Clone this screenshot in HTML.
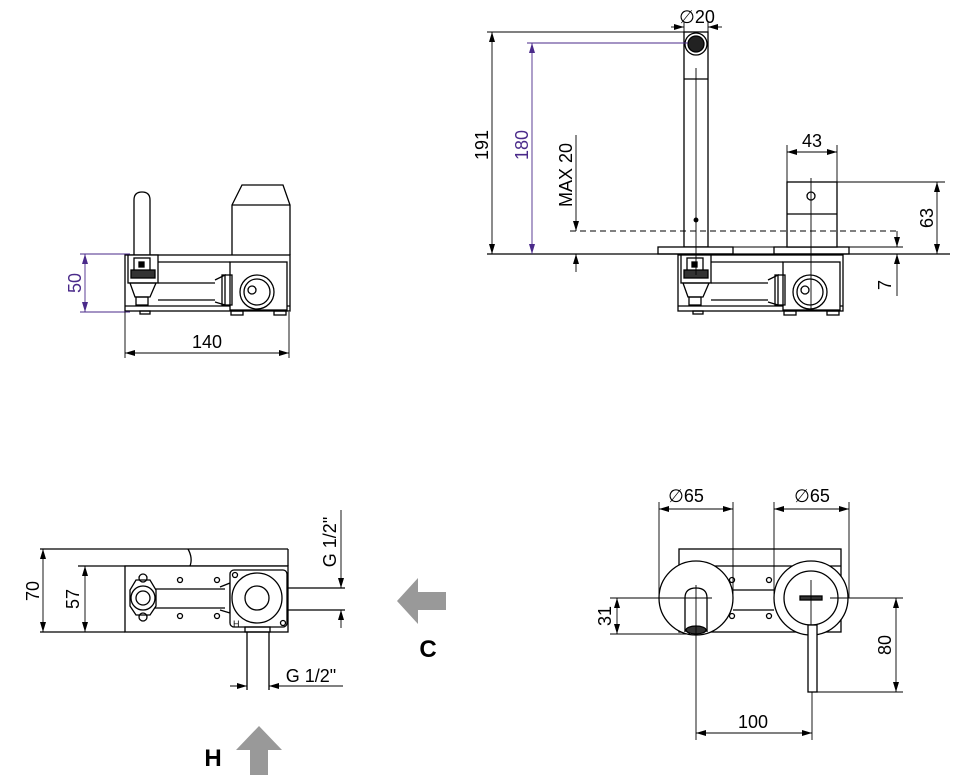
<!DOCTYPE html>
<html><head><meta charset="utf-8"><style>
html,body{margin:0;padding:0;background:#fff;}
svg{display:block;}
text{font-family:"Liberation Sans",sans-serif;font-size:18px;fill:#000;}
.p{fill:#4a2a8a;}
</style></head><body>
<svg width="970" height="775" viewBox="0 0 970 775" xmlns="http://www.w3.org/2000/svg">
<defs>
<marker id="a" viewBox="0 0 10 6" refX="10" refY="3" markerWidth="10" markerHeight="6" orient="auto-start-reverse" markerUnits="userSpaceOnUse"><path d="M0,0L10,3L0,6z" fill="#000"/></marker>
<marker id="ap" viewBox="0 0 10 6" refX="10" refY="3" markerWidth="10" markerHeight="6" orient="auto-start-reverse" markerUnits="userSpaceOnUse"><path d="M0,0L10,3L0,6z" fill="#4a2a8a"/></marker>
<g id="body" fill="none" stroke="#000" stroke-width="1.3">
  <rect x="125" y="255" width="165" height="56" fill="#fff"/>
  <line x1="125" y1="306" x2="290" y2="306"/>
  <rect x="128" y="255" width="30" height="28" fill="#fff"/>
  <rect x="134" y="258" width="16" height="14"/>
  <rect x="139" y="262" width="5" height="5" fill="#000"/>
  <rect x="131" y="270" width="24" height="8" fill="#333"/>
  <path d="M130,283 L156,283 L150,297 L135,297 Z"/>
  <rect x="136" y="297" width="12" height="8"/>
  <line x1="158" y1="262" x2="230" y2="262"/>
  <line x1="158" y1="283" x2="215" y2="283"/>
  <line x1="158" y1="300" x2="215" y2="300"/>
  <path d="M215,280 L225,275 L225,305 L215,302"/>
  <rect x="230" y="262" width="57" height="48" fill="#fff"/>
  <rect x="222" y="275" width="10" height="30"/>
  <circle cx="257" cy="292" r="17"/>
  <circle cx="257" cy="292" r="13"/>
  <circle cx="252" cy="290" r="4"/>
  <rect x="231" y="311" width="12" height="4"/>
  <rect x="274" y="311" width="12" height="4"/>
  <rect x="140" y="311" width="10" height="3"/>
</g>
</defs>

<g fill="none" stroke="#000" stroke-width="1.3">
  <path d="M134,255 L134,200 Q134,192 142,192 Q150,192 150,200 L150,255"/>
  <path d="M232,255 L232,205 L242,185 L283,185 L290,205 L290,255"/>
  <line x1="232" y1="205" x2="290" y2="205"/>
</g>
<use href="#body"/>
<g stroke-width="0.9" fill="none">
  <line x1="80" y1="254" x2="130" y2="254" stroke="#4a2a8a"/>
  <line x1="80" y1="312" x2="130" y2="312" stroke="#4a2a8a"/>
  <line x1="85" y1="254" x2="85" y2="312" stroke="#4a2a8a" marker-start="url(#ap)" marker-end="url(#ap)"/>
  <line x1="125" y1="312" x2="125" y2="358" stroke="#000"/>
  <line x1="289" y1="312" x2="289" y2="358" stroke="#000"/>
  <line x1="125" y1="353" x2="289" y2="353" stroke="#000" marker-start="url(#a)" marker-end="url(#a)"/>
</g>
<text class="p" transform="translate(81,283) rotate(-90)" text-anchor="middle">50</text>
<text x="207" y="348" text-anchor="middle">140</text>

<use href="#body" transform="translate(553,0)"/>
<g fill="none" stroke="#000" stroke-width="1.3">
  <rect x="684" y="32" width="24" height="215" fill="#fff"/>
  <line x1="684" y1="79" x2="708" y2="79"/>
  <circle cx="696" cy="44" r="11"/>
  <circle cx="696" cy="44" r="8" fill="#222"/>
  <rect x="658" y="247" width="75" height="7" fill="#fff"/>
  <rect x="774" y="247" width="75" height="7" fill="#fff"/>
  <rect x="787" y="182" width="50" height="65" fill="#fff"/>
  <line x1="787" y1="214" x2="837" y2="214"/>
  <circle cx="811" cy="196" r="4"/>
  <line x1="487" y1="254" x2="950" y2="254"/>
</g>
<g stroke="#000" stroke-width="0.9" fill="none">
  <line x1="696" y1="68" x2="696" y2="275"/>
  <circle cx="696" cy="220" r="2" fill="#000"/>
  <line x1="811" y1="178" x2="811" y2="310"/>
  <line x1="487" y1="32" x2="696" y2="32"/>
  <line x1="492" y1="32" x2="492" y2="254" marker-start="url(#a)" marker-end="url(#a)"/>
  <line x1="527" y1="43" x2="688" y2="43" stroke="#4a2a8a"/>
  <line x1="532" y1="43" x2="532" y2="254" stroke="#4a2a8a" marker-start="url(#ap)" marker-end="url(#ap)"/>
  <line x1="684" y1="22" x2="684" y2="32"/>
  <line x1="708" y1="22" x2="708" y2="32"/>
  <line x1="671" y1="27" x2="684" y2="27" marker-end="url(#a)"/>
  <line x1="722" y1="27" x2="708" y2="27" marker-end="url(#a)"/>
  <line x1="787" y1="145" x2="787" y2="182"/>
  <line x1="837" y1="145" x2="837" y2="182"/>
  <line x1="787" y1="152" x2="837" y2="152" marker-start="url(#a)" marker-end="url(#a)"/>
  <line x1="837" y1="182" x2="945" y2="182"/>
  <line x1="937" y1="182" x2="937" y2="254" marker-start="url(#a)" marker-end="url(#a)"/>
  <line x1="570" y1="231" x2="898" y2="231" stroke-dasharray="6,4"/>
  <line x1="576" y1="135" x2="576" y2="231" marker-end="url(#a)"/>
  <line x1="576" y1="272" x2="576" y2="254" marker-end="url(#a)"/>
  <line x1="733" y1="247" x2="903" y2="247"/>
  <line x1="897" y1="231" x2="897" y2="247" marker-end="url(#a)"/>
  <line x1="897" y1="296" x2="897" y2="254" marker-end="url(#a)"/>
</g>
<text transform="translate(488,145) rotate(-90)" text-anchor="middle">191</text>
<text class="p" transform="translate(528,145) rotate(-90)" text-anchor="middle">180</text>
<text transform="translate(572,175) rotate(-90)" text-anchor="middle">MAX 20</text>
<text x="697" y="23" text-anchor="middle">∅20</text>
<text x="812" y="147" text-anchor="middle">43</text>
<text transform="translate(933,218) rotate(-90)" text-anchor="middle">63</text>
<text transform="translate(891,285) rotate(-90)" text-anchor="middle">7</text>

<g fill="none" stroke="#000" stroke-width="1.3">
  <line x1="40" y1="549" x2="288" y2="549"/>
  <path d="M188,549 Q193,558 190,566"/>
  <line x1="78" y1="566" x2="288" y2="566"/>
  <rect x="125" y="566" width="163" height="66" fill="#fff"/>
  <line x1="288" y1="549" x2="288" y2="566"/>
  <line x1="40" y1="632" x2="125" y2="632"/>
  <line x1="155" y1="589" x2="225" y2="589"/>
  <line x1="155" y1="608" x2="225" y2="608"/>
  <path d="M220,587 L230,583 L230,613 L220,610"/>
  <circle cx="143" cy="578" r="4"/><circle cx="143" cy="617" r="4"/>
  <path d="M136,580 L150,580 L156,590 L156,606 L150,615 L136,615 L130,606 L130,590 Z"/>
  <circle cx="143" cy="598" r="12"/><circle cx="143" cy="598" r="7"/>
  <circle cx="180" cy="580" r="2.5"/><circle cx="217" cy="580" r="2.5"/>
  <circle cx="180" cy="616" r="2.5"/><circle cx="217" cy="616" r="2.5"/>
  <rect x="230" y="570" width="57" height="57" rx="4" fill="#fff"/>
  <circle cx="257" cy="598" r="25"/><circle cx="257" cy="598" r="12"/>
  <circle cx="235" cy="575" r="2.5"/><circle cx="283" cy="623" r="2.5"/>
  <line x1="287" y1="588" x2="345" y2="588"/>
  <line x1="287" y1="610" x2="345" y2="610"/>
  <rect x="245" y="627" width="25" height="5"/>
  <line x1="247" y1="632" x2="247" y2="690"/>
  <line x1="269" y1="632" x2="269" y2="690"/>
</g>
<text x="233" y="627" style="font-size:9px">H</text>
<g stroke="#000" stroke-width="0.9" fill="none">
  <line x1="43" y1="549" x2="43" y2="632" marker-start="url(#a)" marker-end="url(#a)"/>
  <line x1="85" y1="566" x2="85" y2="632" marker-start="url(#a)" marker-end="url(#a)"/>
  <line x1="341" y1="510" x2="341" y2="588" marker-end="url(#a)"/>
  <line x1="341" y1="628" x2="341" y2="610" marker-end="url(#a)"/>
  <line x1="230" y1="686" x2="247" y2="686" marker-end="url(#a)"/>
  <line x1="343" y1="686" x2="269" y2="686" marker-end="url(#a)"/>
</g>
<text transform="translate(39,591) rotate(-90)" text-anchor="middle">70</text>
<text transform="translate(79,599) rotate(-90)" text-anchor="middle">57</text>
<text transform="translate(336,542) rotate(-90)" text-anchor="middle">G 1/2"</text>
<text x="311" y="682" text-anchor="middle">G 1/2"</text>
<path d="M397,601 L418,578 L418,592 L446,592 L446,610 L418,610 L418,624 Z" fill="#999"/>
<text x="428" y="657" text-anchor="middle" style="font-size:24px;font-weight:bold">C</text>
<path d="M259,726 L282,750 L268,750 L268,775 L250,775 L250,750 L236,750 Z" fill="#999"/>
<text x="213" y="766" text-anchor="middle" style="font-size:24px;font-weight:bold">H</text>

<g fill="none" stroke="#000" stroke-width="1.3">
  <rect x="679" y="549" width="162" height="83" fill="#fff"/>
  <line x1="679" y1="566" x2="841" y2="566"/>
  <line x1="733" y1="590" x2="774" y2="590"/>
  <line x1="733" y1="610" x2="774" y2="610"/>
  <circle cx="732" cy="580" r="2.5"/><circle cx="769" cy="580" r="2.5"/>
  <circle cx="732" cy="616" r="2.5"/><circle cx="769" cy="616" r="2.5"/>
  <circle cx="696" cy="598" r="37" fill="#fff"/>
  <path d="M685,632 L685,598 Q685,588 696,588 Q707,588 707,598 L707,632"/>
  <ellipse cx="696" cy="630" rx="10" ry="4" fill="#333"/>
  <circle cx="811" cy="598" r="37" fill="#fff"/>
  <circle cx="811" cy="598" r="27"/>
  <rect x="800" y="596" width="22" height="4" fill="#333"/>
  <rect x="808" y="625" width="9" height="67" fill="#fff"/>
</g>
<g stroke="#000" stroke-width="0.9" fill="none">
  <line x1="696" y1="585" x2="696" y2="740"/>
  <line x1="675" y1="598" x2="712" y2="598"/>
  <line x1="811" y1="580" x2="811" y2="625"/>
  <line x1="659" y1="502" x2="659" y2="598"/>
  <line x1="733" y1="502" x2="733" y2="598"/>
  <line x1="659" y1="509" x2="733" y2="509" marker-start="url(#a)" marker-end="url(#a)"/>
  <line x1="774" y1="502" x2="774" y2="598"/>
  <line x1="849" y1="502" x2="849" y2="598"/>
  <line x1="774" y1="509" x2="849" y2="509" marker-start="url(#a)" marker-end="url(#a)"/>
  <line x1="610" y1="598" x2="680" y2="598"/>
  <line x1="610" y1="634" x2="690" y2="634"/>
  <line x1="617" y1="598" x2="617" y2="634" marker-start="url(#a)" marker-end="url(#a)"/>
  <line x1="830" y1="598" x2="903" y2="598"/>
  <line x1="817" y1="692" x2="903" y2="692"/>
  <line x1="896" y1="598" x2="896" y2="692" marker-start="url(#a)" marker-end="url(#a)"/>
  <line x1="812" y1="692" x2="812" y2="740"/>
  <line x1="696" y1="733" x2="812" y2="733" marker-start="url(#a)" marker-end="url(#a)"/>
</g>
<text x="686" y="502" text-anchor="middle">∅65</text>
<text x="812" y="502" text-anchor="middle">∅65</text>
<text transform="translate(611,616) rotate(-90)" text-anchor="middle">31</text>
<text transform="translate(891,645) rotate(-90)" text-anchor="middle">80</text>
<text x="753" y="728" text-anchor="middle">100</text>
</svg>
</body></html>
